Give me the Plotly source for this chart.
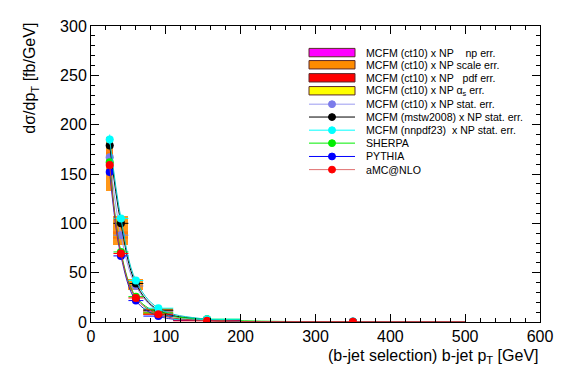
import plotly.graph_objects as go

# ---------------- data ----------------
bin_centers = [25, 40, 60, 90, 155, 350]
bin_halfwidths = [5, 10, 10, 20, 45, 150]

ct10 = [167, 88, 36.5, 11.0, 2.2, 0.30]
mstw2008 = [179, 100, 39.0, 12.0, 2.5, 0.35]
nnpdf23 = [185, 105, 42.0, 14.0, 2.8, 0.40]
sherpa = [162, 71, 25.7, 9.2, 2.8, 0.35]
pythia = [152, 67, 21.7, 6.0, 1.5, 0.20]
amcnlo = [159, 69.4, 24.4, 7.9, 1.2, 0.20]

stat_ct10 = [3, 2, 1.0, 0.5, 0.2, 0.05]
stat_mstw = [3, 2, 1.0, 0.5, 0.2, 0.05]
stat_nnpdf = [5, 2, 1.0, 0.5, 0.2, 0.05]
stat_sherpa = [2, 1.5, 0.8, 0.4, 0.2, 0.05]
stat_pythia = [2, 1.5, 0.8, 0.4, 0.2, 0.05]
stat_amc = [2, 1.5, 0.8, 0.4, 0.2, 0.05]

np_lo = [160, 84, 35.0, 10.5, 2.1, 0.28]
np_hi = [174, 92, 38.0, 11.5, 2.3, 0.32]
scale_lo = [133, 78, 32.6, 7.0, 1.6, 0.20]
scale_hi = [188, 107.6, 44.0, 14.0, 2.9, 0.40]
pdf_lo = [162, 85, 35.3, 10.6, 2.1, 0.28]
pdf_hi = [172, 91, 37.7, 11.4, 2.3, 0.32]
as_lo = [164, 86.5, 36.0, 10.8, 2.15, 0.29]
as_hi = [170, 89.5, 37.0, 11.2, 2.25, 0.31]

legend_labels = [
    "MCFM (ct10) x NP\u00a0\u00a0\u00a0\u00a0np err.",
    "MCFM (ct10) x NP scale err.",
    "MCFM (ct10) x NP\u00a0\u00a0\u00a0pdf err.",
    "MCFM (ct10) x NP \u03b1<sub>s</sub> err.",
    "MCFM (ct10) x NP stat. err.",
    "MCFM (mstw2008) x NP stat. err.",
    "MCFM (nnpdf23)\u00a0 x NP stat. err.",
    "SHERPA",
    "PYTHIA",
    "aMC@NLO",
]

FONT = "Liberation Sans, Arial, Helvetica, sans-serif"

fig = go.Figure()

widths = [2 * h for h in bin_halfwidths]
bands = [
    (np_lo, np_hi, "#ff00ff"),
    (pdf_lo, pdf_hi, "#ff0000"),
    (as_lo, as_hi, "#ffff00"),
    (scale_lo, scale_hi, "#ff8c00"),
]
for lo, hi, col in bands:
    fig.add_trace(go.Bar(
        x=bin_centers, y=[h - l for l, h in zip(lo, hi)], base=lo, width=widths,
        marker=dict(color=col, line=dict(width=0)), opacity=0.9 if col == "#ff8c00" else 1,
        showlegend=False, hoverinfo="skip"))

series = [
    (ct10, stat_ct10, "#7b7bea", "#9a9af0"),
    (mstw2008, stat_mstw, "#000000", "#000000"),
    (sherpa, stat_sherpa, "#00ee00", "#00dd00"),
    (pythia, stat_pythia, "#0000ff", "#2020c0"),
    (nnpdf23, stat_nnpdf, "#00ffff", "#00c8c8"),
    (amcnlo, stat_amc, "#ff0000", "#c04040"),
]
for vals, errs, mcol, lcol in series:
    fig.add_trace(go.Scatter(
        x=bin_centers, y=vals, mode="lines+markers",
        line=dict(color=lcol, width=1, shape="spline", smoothing=1.0),
        marker=dict(color=mcol, size=8, symbol="circle"),
        error_x=dict(type="data", array=bin_halfwidths, color=mcol, thickness=1, width=0),
        error_y=dict(type="data", array=errs, color=mcol, thickness=1, width=0),
        showlegend=False, hoverinfo="skip"))

# ---------------- manual ROOT-style legend ----------------
# page body has an 8px margin, so target pixel positions are shifted by 8
OFF = 8
L, R, T, B = 91 - OFF, 540 - OFF, 18 - OFF, 322 - OFF
W, H = 567, 384

def px(x):
    return (x - OFF - L) / (R - L)
def py(y):
    return (B - (y - OFF)) / (B - T)

shapes = []
annotations = []
row_y = [45.3, 57.8, 71.2, 84.5, 98.3, 111.5, 125.0, 138.3, 152.0, 165.5]
box_cols = ["#ff00ff", "#ff8c00", "#ff0000", "#ffff00"]
line_cols = ["#9a9af0", "#000000", "#00ffff", "#00ee00", "#0000ff", "#e07070"]
mark_cols = ["#7b7bea", "#000000", "#00ffff", "#00ee00", "#0000ff", "#ff0000"]
for i, yy in enumerate(row_y):
    if i < 4:
        shapes.append(dict(type="rect", xref="paper", yref="paper",
                           x0=px(309), x1=px(355), y0=py(yy - 4.3), y1=py(yy + 4.3),
                           fillcolor=box_cols[i], line=dict(color="#5a2a2a", width=1)))
    else:
        j = i - 4
        shapes.append(dict(type="line", xref="paper", yref="paper",
                           x0=px(309), x1=px(355), y0=py(yy), y1=py(yy),
                           line=dict(color=line_cols[j], width=1)))
        shapes.append(dict(type="circle", xref="paper", yref="paper",
                           x0=px(328.5), x1=px(335.5), y0=py(yy - 3.5), y1=py(yy + 3.5),
                           fillcolor=mark_cols[j], line=dict(color=mark_cols[j], width=1)))
    annotations.append(dict(xref="paper", yref="paper", x=px(364), y=py(yy),
                            text=legend_labels[i], showarrow=False, xanchor="left",
                            yanchor="middle", font=dict(family=FONT, size=10.6, color="black")))

# axis titles (ROOT style: right/top aligned)
annotations.append(dict(xref="paper", yref="paper", x=px(541), y=py(357),
                        text="(b-jet selection) b-jet p<sub>T</sub> [GeV]", showarrow=False,
                        xanchor="right", yanchor="middle",
                        font=dict(family=FONT, size=16, color="black")))
annotations.append(dict(xref="paper", yref="paper", x=px(31), y=py(12),
                        text="d\u03c3/dp<sub>T</sub> [fb/GeV]", showarrow=False, textangle=-90,
                        xanchor="center", yanchor="top",
                        font=dict(family=FONT, size=16, color="black")))

axis_common = dict(
    showgrid=False, zeroline=False, showline=True, linecolor="black", linewidth=1,
    mirror="ticks", ticks="inside", tickcolor="black", tickwidth=1,
    tickfont=dict(family=FONT, size=16, color="black"),
)

fig.update_layout(
    width=W, height=H,
    margin=dict(l=L, r=W - R, t=T, b=H - B),
    paper_bgcolor="white", plot_bgcolor="white",
    barmode="overlay", bargap=0,
    showlegend=False,
    shapes=shapes, annotations=annotations,
    xaxis=dict(range=[0, 600], dtick=100, tick0=0, ticklen=8,
               minor=dict(dtick=20, ticks="inside", ticklen=4, tickcolor="black"),
               **axis_common),
    yaxis=dict(range=[0, 300], dtick=50, tick0=0, ticklen=8,
               minor=dict(dtick=10, ticks="inside", ticklen=4, tickcolor="black"),
               **axis_common),
)

fig.write_html("out.html")
